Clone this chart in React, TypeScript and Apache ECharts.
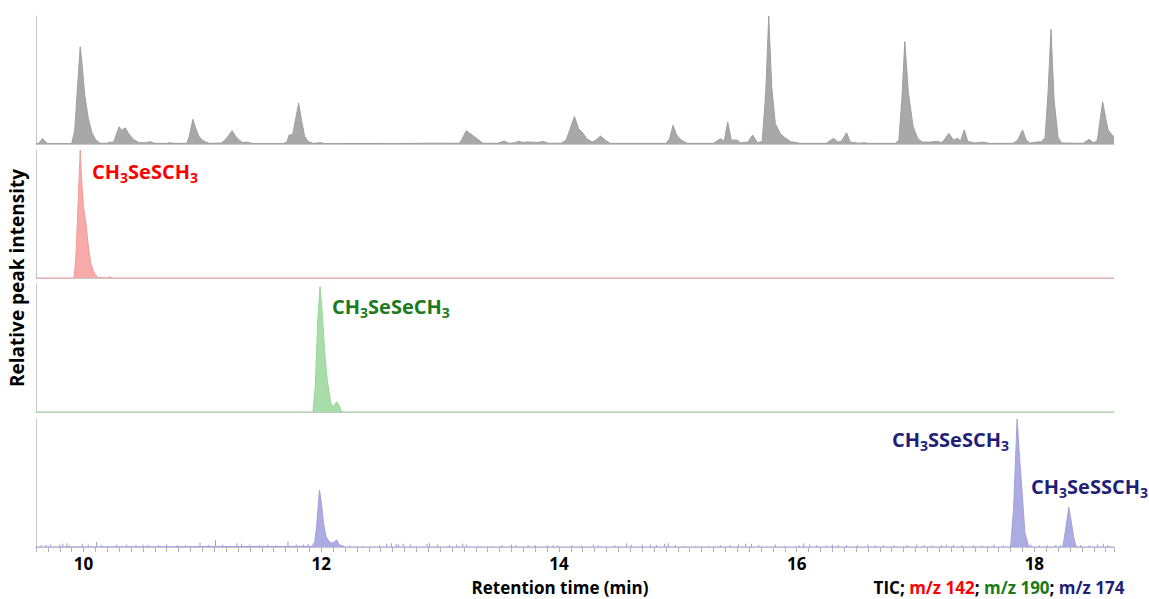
import React, { useEffect, useRef } from 'react';
import * as echarts from 'echarts';

// Retention time (min) axis range
const X_MIN = 9.6;
const X_MAX = 18.67;
const X_TICK_LABELS = [10, 12, 14, 16, 18];

// TIC trace: [retention time, relative intensity %]
const ticData: [number, number][] = [
  [9.6, 0.3], [9.62, 0.4], [9.64, 2.5], [9.655, 4.4], [9.67, 2.5], [9.7, 0.3],
  [9.9, 0.3], [9.925, 10], [9.95, 45], [9.972, 76], [9.99, 60], [10.01, 38], [10.04, 20], [10.07, 9], [10.1, 3.5], [10.14, 0.5],
  [10.2, 0.6], [10.22, 1.5], [10.24, 1], [10.26, 3], [10.285, 10], [10.3, 13.5], [10.32, 10.5], [10.35, 12.7], [10.38, 8], [10.42, 3.5], [10.47, 1],
  [10.52, 1], [10.56, 1.8], [10.6, 0.5], [10.7, 0.5], [10.72, 1], [10.76, 0.5],
  [10.87, 0.5], [10.89, 6], [10.92, 19.3], [10.945, 12], [10.97, 6], [11.0, 3], [11.03, 1.5], [11.06, 0.5],
  [11.16, 0.8], [11.2, 4], [11.25, 10.4], [11.28, 6], [11.31, 3], [11.34, 1], [11.38, 1.5], [11.42, 0.3],
  [11.68, 0.3], [11.71, 1.5], [11.73, 7], [11.76, 7.5], [11.785, 20], [11.81, 31.8], [11.835, 18], [11.86, 6], [11.89, 2], [11.93, 0.5], [12.0, 1], [12.03, 0.3],
  [12.45, 0.4], [12.52, 0.5], [12.58, 0.4], [12.8, 0.5], [12.89, 0.6], [13.06, 0.6], [13.16, 0.5],
  [13.18, 3], [13.22, 10.4], [13.27, 7], [13.32, 3.5], [13.36, 0.6],
  [13.48, 0.5], [13.54, 2.3], [13.58, 0.5], [13.63, 1], [13.66, 2.1], [13.7, 1.2], [13.74, 1.6], [13.78, 1.4], [13.82, 1.2], [13.87, 2], [13.91, 0.6],
  [14.02, 0.6], [14.06, 3], [14.095, 12], [14.13, 21.4], [14.165, 12], [14.2, 8.8], [14.235, 4], [14.28, 1.5], [14.31, 3], [14.35, 6.2], [14.39, 3], [14.43, 0.5],
  [14.9, 0.5], [14.93, 4], [14.96, 14.6], [14.99, 7], [15.03, 3], [15.08, 0.5],
  [15.3, 0.5], [15.36, 4.2], [15.39, 2], [15.42, 17.2], [15.45, 3], [15.5, 3.1], [15.53, 0.8], [15.59, 1.5], [15.63, 7], [15.67, 1],
  [15.71, 2], [15.74, 40], [15.765, 100], [15.79, 45], [15.82, 16], [15.86, 8.4], [15.9, 5], [15.95, 1.8], [16.03, 0.5],
  [16.25, 0.5], [16.31, 4.4], [16.35, 1.5], [16.38, 2.5], [16.42, 8.8], [16.45, 1.5], [16.52, 0.6], [16.57, 1], [16.6, 0.5], [16.83, 0.5],
  [16.86, 3], [16.885, 35], [16.91, 80], [16.94, 40], [16.98, 13.5], [17.02, 4], [17.06, 1.5], [17.12, 1.5], [17.18, 2], [17.22, 1.2],
  [17.24, 3], [17.28, 8.3], [17.32, 3], [17.35, 4.4], [17.38, 2.5], [17.41, 10.9], [17.44, 2], [17.5, 0.8], [17.57, 1.5], [17.62, 0.5], [17.82, 0.5],
  [17.86, 3], [17.9, 10.9], [17.93, 3.5], [17.96, 0.8], [18.02, 1.5], [18.06, 1.8], [18.09, 5], [18.115, 40], [18.14, 89.6], [18.165, 35], [18.2, 5], [18.23, 0.8],
  [18.41, 0.5], [18.46, 3.6], [18.5, 0.8], [18.53, 3], [18.555, 20], [18.575, 33], [18.6, 20], [18.62, 11], [18.645, 8], [18.67, 5.7],
];

// m/z 142 trace
const m142Data: [number, number][] = [
  [9.6, 0], [9.92, 0], [9.935, 15], [9.955, 60], [9.972, 100], [9.985, 75], [10.0, 55], [10.02, 43], [10.04, 25], [10.06, 12], [10.08, 6],
  [10.1, 2.5], [10.12, 0.5], [10.2, 0], [10.22, 1], [10.24, 0], [18.67, 0],
];

// m/z 190 trace
const m190Data: [number, number][] = [
  [9.6, 0], [11.93, 0], [11.95, 20], [11.97, 70], [11.99, 98], [12.01, 75], [12.03, 45], [12.05, 25], [12.08, 7], [12.1, 4],
  [12.13, 8], [12.15, 5], [12.17, 0.5], [12.19, 0], [18.67, 0],
];

// m/z 174 trace (peaks)
const m174Peaks: [number, number][] = [
  [9.6, 0], [11.94, 0.5], [11.96, 15], [11.985, 44.5], [12.0, 35], [12.02, 18], [12.04, 8], [12.07, 4], [12.09, 3], [12.11, 4], [12.13, 5.5], [12.15, 2], [12.18, 0.5], [12.2, 0],
  [17.8, 0], [17.825, 30], [17.855, 100], [17.875, 70], [17.9, 39], [17.92, 11], [17.95, 1], [17.97, 0],
  [18.24, 0], [18.26, 12], [18.29, 31], [18.31, 20], [18.33, 8], [18.35, 0.5], [18.37, 0], [18.67, 0],
];

// m/z 174 baseline noise spikes
const m174Noise: [number, number][] = [
  [9.644, 1.5], [9.686, 1.5], [9.72, 2], [9.8, 2], [9.826, 2.6], [9.86, 3], [9.88, 1.5], [9.99, 2.6], [10.04, 2], [10.11, 4], [10.15, 1.5],
  [10.28, 2], [10.36, 2], [10.44, 1.3], [10.5, 2], [10.54, 1.5], [10.63, 1.3], [10.7, 2], [10.79, 1.3], [10.86, 1.3], [10.98, 3.6],
  [11.05, 1.5], [11.11, 5.2], [11.17, 1.8], [11.29, 3], [11.33, 2.6], [11.4, 2], [11.48, 1.5], [11.55, 2], [11.62, 1.3], [11.72, 4.2],
  [11.79, 2], [11.85, 2], [11.89, 2.6], [11.93, 3], [12.18, 1.5], [12.24, 1.3], [12.35, 1], [12.49, 1.5], [12.55, 2.6], [12.59, 3],
  [12.63, 2.6], [12.65, 2], [12.69, 2.6], [12.75, 2], [12.89, 2.6], [12.91, 3], [12.98, 2], [13.08, 1.5], [13.14, 2], [13.19, 2.6],
  [13.22, 2], [13.32, 1], [13.43, 1], [13.52, 1.3], [13.6, 2], [13.64, 1.5], [13.74, 1.5], [13.8, 1.5], [13.9, 1.5], [13.95, 1.3],
  [13.99, 1.5], [14.11, 1.3], [14.19, 1.3], [14.29, 2], [14.33, 1.3], [14.47, 1.3], [14.57, 3], [14.61, 1.5], [14.7, 2], [14.77, 2],
  [14.82, 1.5], [14.89, 2.6], [14.92, 3], [14.98, 1.5], [15.06, 1], [15.15, 1], [15.26, 1], [15.36, 1.3], [15.44, 1.5], [15.51, 2],
  [15.57, 2.6], [15.62, 2.6], [15.68, 1.5], [15.82, 2], [15.9, 1], [16.02, 1.5], [16.06, 3], [16.11, 2], [16.17, 1.5], [16.25, 1.3],
  [16.3, 2], [16.35, 1.5], [16.42, 1.5], [16.51, 1.3], [16.6, 2], [16.66, 1.3], [16.73, 1.5], [16.82, 1.3], [16.93, 1.5], [17.01, 2],
  [17.07, 1.5], [17.14, 1.3], [17.22, 1.5], [17.26, 2], [17.32, 1.5], [17.39, 1.5], [17.49, 1.3], [17.56, 1.3], [17.66, 2], [17.74, 1.3],
  [17.97, 2], [18.04, 1.5], [18.11, 1.3], [18.18, 1.5], [18.22, 1.3], [18.39, 1.5], [18.46, 1.3], [18.53, 2], [18.58, 2.6], [18.62, 1.5],
];

// Compound labels: formula parts (odd indexes are subscripts)
const LABEL_RED = ['CH', '3', 'SeSCH', '3'];
const LABEL_GREEN = ['CH', '3', 'SeSeCH', '3'];
const LABEL_BLUE_1 = ['CH', '3', 'SSeSCH', '3'];
const LABEL_BLUE_2 = ['CH', '3', 'SeSSCH', '3'];

const Y_TITLE = 'Relative peak intensity';
const X_TITLE = 'Retention time (min)';
const LEGEND_PARTS: [string, string][] = [
  ['TIC; ', 'k'], ['m/z 142', 'r'], ['; ', 'k'], ['m/z 190', 'g'], ['; ', 'k'], ['m/z 174', 'b'],
];

const FONT = '"Open Sans", "Noto Sans", sans-serif';
const RED = '#ff0000';
const GREEN = '#1b7a1b';
const NAVY = '#1f1f78';

function formula(parts: string[]) {
  return parts.map((p, i) => (i % 2 === 1 ? `{s|${p}}` : `{a|${p}}`)).join('');
}

function formulaRich(color: string) {
  return {
    a: { fontSize: 20, fontWeight: 'bold', fontFamily: FONT, fill: color, color, lineHeight: 26, verticalAlign: 'middle' },
    s: { fontSize: 14, fontWeight: 'bold', fontFamily: FONT, fill: color, color, lineHeight: 13, verticalAlign: 'bottom' },
  };
}

export default function App() {
  const ref = useRef<HTMLDivElement>(null);
  useEffect(() => {
    const chart = echarts.init(ref.current!, null, { renderer: 'svg' });
    const tops = [16, 150, 284, 419];
    const grids = tops.map((t) => ({ left: 36, right: 35, top: t, height: 128 }));
    const axisColor = '#c8c8c8';
    const xAxes = tops.map((_, i) => {
      const last = i === 3;
      return {
        type: 'value',
        gridIndex: i,
        min: X_MIN,
        max: X_MAX,
        interval: last ? 0.1 : undefined,
        axisLine: { show: true, onZero: false, lineStyle: { color: axisColor, width: 1 } },
        axisTick: { show: last, length: 5, lineStyle: { color: '#b0b0c4', width: 1 } },
        axisLabel: last
          ? {
              show: true,
              margin: 8,
              fontSize: 17,
              lineHeight: 17,
              fontWeight: 'bold',
              fontFamily: FONT,
              color: '#000',
              hideOverlap: false,
              formatter: (v: number) => {
                const r = Math.round(v);
                return Math.abs(v - r) < 1e-6 && X_TICK_LABELS.includes(r) ? String(r) : '';
              },
            }
          : { show: false },
        splitLine: { show: false },
      };
    });
    const yAxes = tops.map((_, i) => ({
      type: 'value',
      gridIndex: i,
      min: 0,
      max: 100,
      axisLine: { show: true, lineStyle: { color: axisColor, width: 1 } },
      axisTick: { show: false },
      axisLabel: { show: false },
      splitLine: { show: false },
    }));
    const lineSeries = (data: [number, number][], idx: number, line: string, fill: string) => ({
      type: 'line',
      xAxisIndex: idx,
      yAxisIndex: idx,
      data,
      symbol: 'none',
      lineStyle: { color: line, width: 1 },
      areaStyle: { color: fill, opacity: 1 },
      silent: true,
    });
    const colorMap: Record<string, string> = { k: '#000', r: RED, g: GREEN, b: NAVY };
    const legendRich: Record<string, any> = {};
    Object.keys(colorMap).forEach((k) => {
      legendRich[k] = { fontSize: 17, fontWeight: 'bold', fontFamily: FONT, fill: colorMap[k], color: colorMap[k], lineHeight: 17 };
    });
    chart.setOption({
      animation: false,
      backgroundColor: '#ffffff',
      grid: grids,
      xAxis: xAxes,
      yAxis: yAxes,
      series: [
        lineSeries(ticData, 0, '#9e9e9e', '#a8a8a8'),
        lineSeries(m142Data, 1, '#f59a9a', '#f7aaaa'),
        lineSeries(m190Data, 2, '#98d498', '#a8dca8'),
        {
          type: 'bar',
          xAxisIndex: 3,
          yAxisIndex: 3,
          data: m174Noise,
          barWidth: 1,
          itemStyle: { color: '#9a9ad6' },
          silent: true,
        },
        lineSeries(m174Peaks, 3, '#a0a0dc', '#acace2'),
      ],
      graphic: [
        {
          type: 'text', x: 17, y: 278, rotation: Math.PI / 2,
          style: { text: Y_TITLE, fontSize: 19, fontWeight: 'bold', fontFamily: FONT, fill: '#000', align: 'center', verticalAlign: 'middle' },
        },
        {
          type: 'text', x: 560, y: 587.4,
          style: { text: X_TITLE, fontSize: 17, lineHeight: 17, fontWeight: 'bold', fontFamily: FONT, fill: '#000', align: 'center', verticalAlign: 'middle' },
        },
        {
          type: 'text', x: 999, y: 587.4,
          style: {
            text: LEGEND_PARTS.map(([t, c]) => `{${c}|${t}}`).join(''),
            rich: legendRich, align: 'center', verticalAlign: 'middle',
          },
        },
        { type: 'text', x: 92, y: 171, style: { text: formula(LABEL_RED), rich: formulaRich(RED), align: 'left', verticalAlign: 'middle' } },
        { type: 'text', x: 332, y: 306, style: { text: formula(LABEL_GREEN), rich: formulaRich(GREEN), align: 'left', verticalAlign: 'middle' } },
        { type: 'text', x: 892, y: 439, style: { text: formula(LABEL_BLUE_1), rich: formulaRich(NAVY), align: 'left', verticalAlign: 'middle' } },
        { type: 'text', x: 1031, y: 486, style: { text: formula(LABEL_BLUE_2), rich: formulaRich(NAVY), align: 'left', verticalAlign: 'middle' } },
      ],
    });
    return () => chart.dispose();
  }, []);
  return <div ref={ref} style={{ position: 'fixed', left: 0, top: 0, width: 1149, height: 599 }} />;
}
